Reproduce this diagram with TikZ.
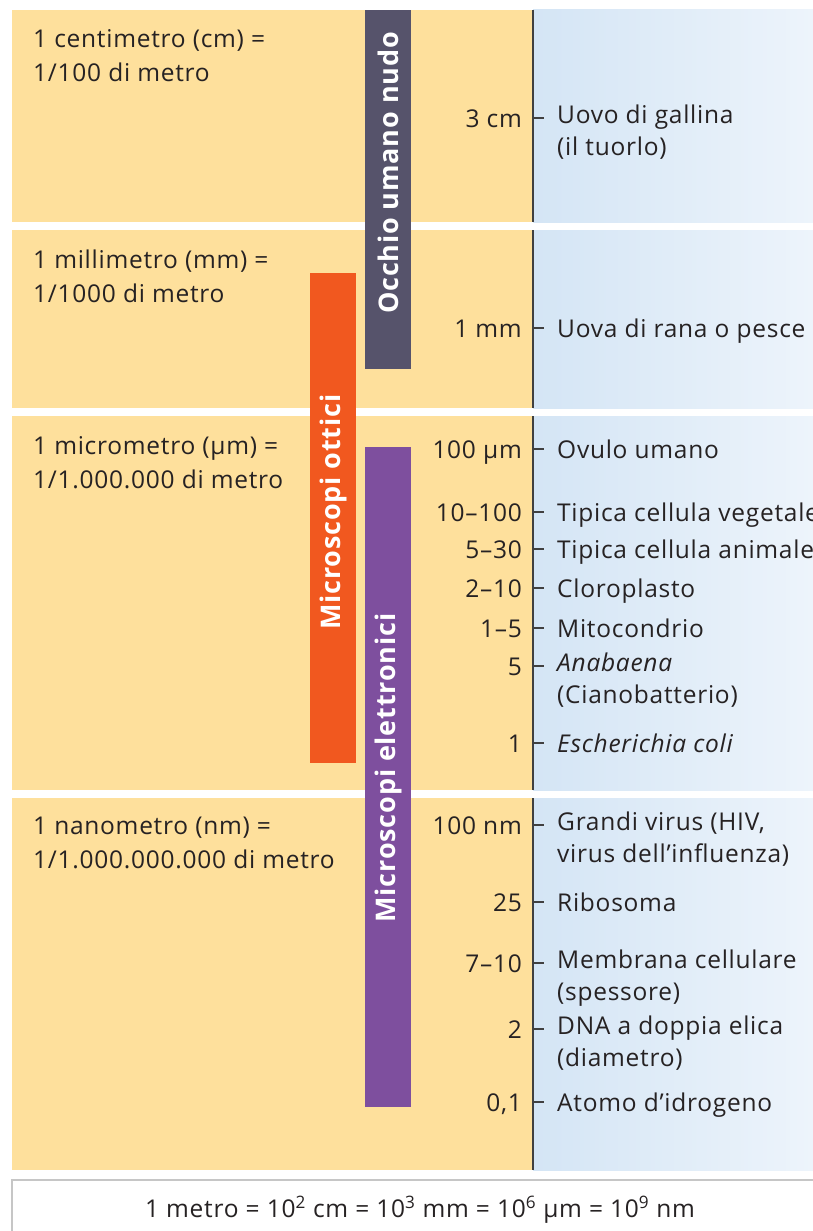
\documentclass[tikz,border=0pt]{standalone}
\usepackage{fontspec}
\setmainfont{Open Sans}[LetterSpace=3]
\usepackage{tikz}
\usetikzlibrary{positioning}

\definecolor{panelyellow}{HTML}{FEE09C}
\definecolor{panelblue}{HTML}{D4E5F5}
\definecolor{panelpale}{HTML}{EDF4FB}
\definecolor{eyegrey}{HTML}{56536B}
\definecolor{optorange}{HTML}{F1581F}
\definecolor{elpurple}{HTML}{7E4F9E}
\definecolor{axisgrey}{HTML}{404040}
\definecolor{inkgrey}{HTML}{262223}

\tikzset{
  txt/.style={inner sep=0pt, align=left, text=inkgrey,
    font=\fontsize{24.5}{32}\selectfont, execute at begin node=\strut},
  num/.style={txt, anchor=north east, align=right},
  lbl/.style={txt, anchor=north west},
  unit/.style={txt, anchor=north west, font=\fontsize{24.5}{34}\selectfont},
  barlbl/.style={rotate=90, inner sep=0pt, text=white,
    font=\fontsize{27}{30}\selectfont\bfseries},
  tick/.style={axisgrey, line width=1.2pt},
}

\begin{document}
\begin{tikzpicture}[x=1pt,y=-1pt]
\useasboundingbox (0,0) rectangle (813,1231);
% bands
\fill[panelyellow] (12,10) rectangle (533,222);
\shade[left color=panelblue,right color=panelpale] (533,10) rectangle (813,222);
\fill[panelyellow] (12,230) rectangle (533,408);
\shade[left color=panelblue,right color=panelpale] (533,230) rectangle (813,408);
\fill[panelyellow] (12,416) rectangle (533,790);
\shade[left color=panelblue,right color=panelpale] (533,416) rectangle (813,790);
\fill[panelyellow] (12,798) rectangle (533,1170);
\shade[left color=panelblue,right color=panelpale] (533,798) rectangle (813,1170);
\draw[axisgrey,line width=1.3pt] (533,10) -- (533,222);
\draw[axisgrey,line width=1.3pt] (533,230) -- (533,408);
\draw[axisgrey,line width=1.3pt] (533,416) -- (533,790);
\draw[axisgrey,line width=1.3pt] (533,798) -- (533,1170);
% units
\node[unit] (cm) at (33,29) {1 centimetro (cm) =\\1/100 di metro};
\node[unit] (mm) at (33,250) {1 millimetro (mm) =\\1/1000 di metro};
\node[unit] (um) at (33,436) {1 micrometro (µm) =\\1/1.000.000 di metro};
\node[unit] (nm) at (33,817) {1 nanometro (nm) =\\1/1.000.000.000 di metro};
% bars
\fill[eyegrey] (365,10) rectangle (411,369);
\fill[optorange] (310,273) rectangle (356,763);
\fill[elpurple] (365,447) rectangle (411,1107);
\node[barlbl] (eye) at (388,173) {Occhio umano nudo};
\node[barlbl] (ott) at (333,512) {Microscopi ottici};
\node[barlbl] (ele) at (388,768) {Microscopi elettronici};
% scale
\node[num] (n1) at (522,105) {3 cm};
\node[lbl] (l1) at (557,105) {Uovo di gallina\\(il tuorlo)};
\draw[tick] (533,118) -- (544,118);
\node[num] (n2) at (522,315) {1 mm};
\node[lbl] (l2) at (557,315) {Uova di rana o pesce};
\draw[tick] (533,328) -- (544,328);
\node[num] (n3) at (522,436) {100 µm};
\node[lbl] (l3) at (557,436) {Ovulo umano};
\draw[tick] (533,449) -- (544,449);
\node[num] (n4) at (522,499) {10–100};
\node[lbl] (l4) at (557,499) {Tipica cellula vegetale};
\draw[tick] (533,512) -- (544,512);
\node[num] (n5) at (522,536) {5–30};
\node[lbl] (l5) at (557,536) {Tipica cellula animale};
\draw[tick] (533,549) -- (544,549);
\node[num] (n6) at (522,575) {2–10};
\node[lbl] (l6) at (557,575) {Cloroplasto};
\draw[tick] (533,588) -- (544,588);
\node[num] (n7) at (522,615) {1–5};
\node[lbl] (l7) at (557,615) {Mitocondrio};
\draw[tick] (533,628) -- (544,628);
\node[num] (n8) at (522,653) {5};
\node[lbl] (l8) at (557,653) {\textit{Anabaena}\\(Cianobatterio)};
\draw[tick] (533,666) -- (544,666);
\node[num] (n9) at (522,730) {1};
\node[lbl] (l9) at (557,730) {\textit{Escherichia coli}};
\draw[tick] (533,743) -- (544,743);
\node[num] (n10) at (522,812) {100 nm};
\node[lbl] (l10) at (557,812) {Grandi virus (HIV,\\virus dell’influenza)};
\draw[tick] (533,825) -- (544,825);
\node[num] (n11) at (522,889) {25};
\node[lbl] (l11) at (557,889) {Ribosoma};
\draw[tick] (533,902) -- (544,902);
\node[num] (n12) at (522,950) {7–10};
\node[lbl] (l12) at (557,950) {Membrana cellulare\\(spessore)};
\draw[tick] (533,963) -- (544,963);
\node[num] (n13) at (522,1016) {2};
\node[lbl] (l13) at (557,1016) {DNA a doppia elica\\(diametro)};
\draw[tick] (533,1029) -- (544,1029);
\node[num] (n14) at (522,1089) {0,1};
\node[lbl] (l14) at (557,1089) {Atomo d’idrogeno};
\draw[tick] (533,1102) -- (544,1102);
% footer
\draw[gray!45,line width=1.3pt,fill=white] (12,1180) rectangle (830,1245);
\node[inner sep=0pt,text=inkgrey,font=\fontsize{24.5}{28}\selectfont] (metro) at (420,1210)
  {1 metro = 10\textsuperscript{2} cm = 10\textsuperscript{3} mm = 10\textsuperscript{6} µm = 10\textsuperscript{9} nm};
\end{tikzpicture}
\end{document}
